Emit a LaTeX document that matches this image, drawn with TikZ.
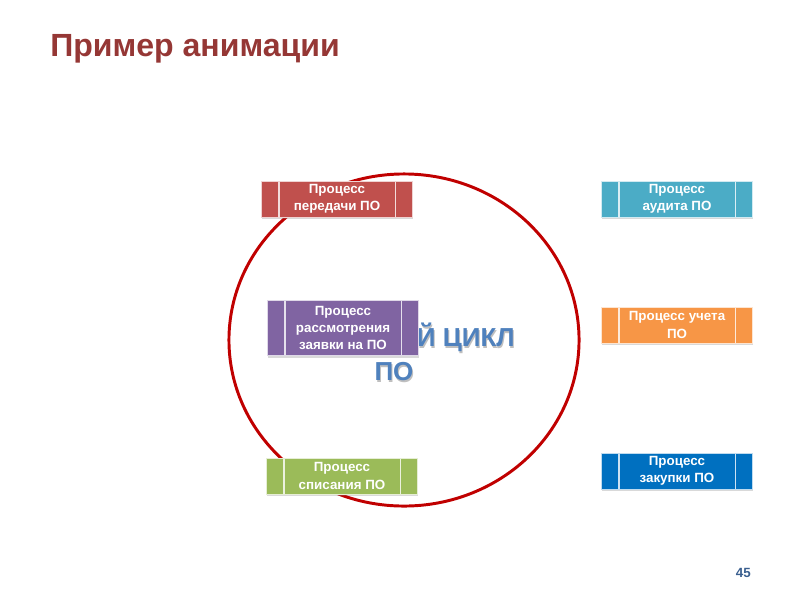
\documentclass[tikz,border=0pt]{standalone}
\usepackage{fontspec}
\setmainfont{Liberation Sans}
\usetikzlibrary{shadows, shapes.geometric}

\definecolor{titlered}{HTML}{953735}
\definecolor{ringred}{HTML}{C00000}
\definecolor{boxred}{HTML}{C0504D}
\definecolor{boxteal}{HTML}{4BACC6}
\definecolor{boxpurple}{HTML}{8064A2}
\definecolor{boxorange}{HTML}{F79646}
\definecolor{boxgreen}{HTML}{9BBB59}
\definecolor{boxblue}{HTML}{0070C0}
\definecolor{cycleblue}{HTML}{4F81BD}
\definecolor{pagenum}{HTML}{3A5F8F}

\tikzset{
  procbox/.style={fill=#1, draw=white!75!#1, line width=0.5pt,
    minimum width=3.78cm, minimum height=0.9cm, inner sep=1pt,
    text=white, align=center,
    font=\bfseries\fontsize{9.5}{12.2}\selectfont,
    drop shadow={shadow xshift=0.3pt, shadow yshift=-1.6pt, opacity=0.3},
    path picture={
      \draw[white!80!#1, line width=0.8pt]
        ([xshift=0.44cm]path picture bounding box.north west) --
        ([xshift=0.44cm]path picture bounding box.south west);
      \draw[white!80!#1, line width=0.8pt]
        ([xshift=-0.42cm]path picture bounding box.north east) --
        ([xshift=-0.42cm]path picture bounding box.south east);
    }},
  cycletext/.style={text=cycleblue, font=\bfseries\fontsize{18.5}{24}\selectfont}
}

\begin{document}
\begin{tikzpicture}[x=0.025cm, y=-0.025cm]
		\useasboundingbox (0,0) rectangle (800,600);
		% title
		\node[anchor=base west, inner sep=0, text=titlered,
		  font=\bfseries\fontsize{22.8}{26}\selectfont] (title) at (50,56) {Пример анимации};
		% ring
		\node[draw=ringred, line width=2.1pt, ellipse, inner sep=0,
		  minimum width=8.75cm, minimum height=8.3cm] (ring) at (404,340) {};
		% text behind the purple box
		\node[cycletext, anchor=base east, inner sep=0, text=black, opacity=0.25] at (516,348) {Й ЦИКЛ};
		\node[cycletext, anchor=base east, inner sep=0] (cycle) at (515,346) {Й ЦИКЛ};
		\node[cycletext, anchor=base, inner sep=0, text=black, opacity=0.25] at (395,382) {ПО};
		\node[cycletext, anchor=base, inner sep=0] (po) at (394,380) {ПО};
		% processes
		\node[procbox=boxred] (peredacha) at (337,199) {Процесс\\передачи ПО};
		\node[procbox=boxteal] (audit) at (677,199) {Процесс\\аудита ПО};
		\node[procbox=boxpurple, minimum height=1.375cm] (zayavka) at (343,328) {Процесс\\рассмотрения\\заявки на ПО};
		\node[procbox=boxorange] (uchet) at (677,325) {Процесс учета\\ПО};
		\node[procbox=boxgreen] (spisanie) at (342,476) {Процесс\\списания ПО};
		\node[procbox=boxblue] (zakupka) at (677,471) {Процесс\\закупки ПО};
		% page number
		\node[anchor=base east, inner sep=0, text=pagenum,
		  font=\bfseries\fontsize{9.5}{11}\selectfont] (page) at (751,577) {45};
	\end{tikzpicture}
\end{document}
